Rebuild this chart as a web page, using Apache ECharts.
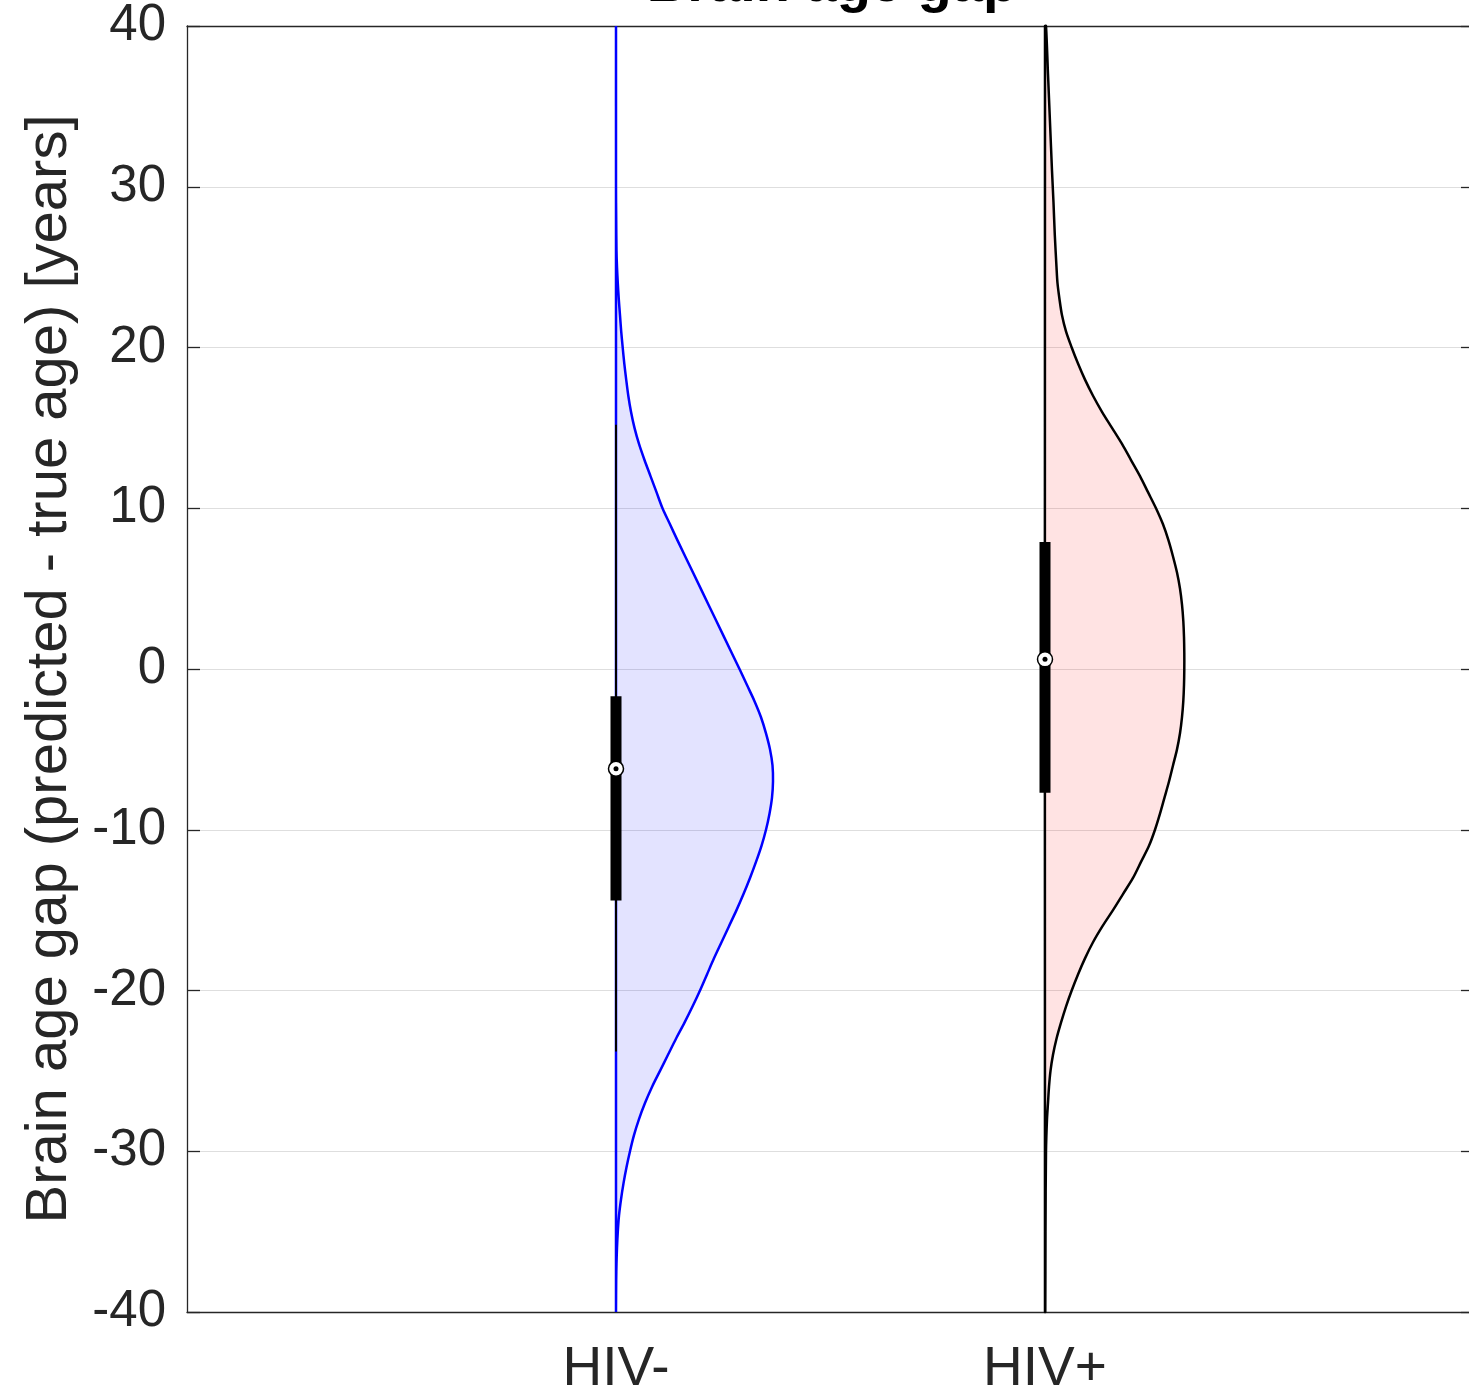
<!DOCTYPE html>
<html>
<head>
<meta charset="utf-8">
<title>Brain age gap</title>
<script src="https://cdn.jsdelivr.net/npm/echarts@6/dist/echarts.min.js"></script>
<style>
  html, body { margin: 0; padding: 0; background: #fff; }
  #chart { width: 1469px; height: 1392px; }
</style>
</head>
<body>
<div id="chart"></div>
<script>
// categories on the x axis (placed at x = 1, 2 of a 0..3 axis)
const categories = ['HIV-', 'HIV+'];
const yTicks = [-40, -30, -20, -10, 0, 10, 20, 30, 40];

// half-violin densities (scaled kernel density)
// widthScale turns a density value into x-axis units
const widthScale = 1 / 429;

const hivNegY = [-40, -38, -37, -36, -35, -34, -33, -32, -31, -30, -29, -28, -27, -26, -25, -24, -23, -22, -21, -20,
  -19, -18, -17, -16, -15, -14, -13, -12, -11, -10, -9, -8, -7, -6, -5, -4, -3, -2, -1, 0,
  2, 4, 6, 8, 9, 10, 11, 12, 13, 14, 15, 16, 17, 18, 19, 20, 21, 22, 23, 24, 25, 26, 28, 30, 40];
const hivNegD = [0, 0.2, 0.5, 1, 1.8, 3, 5, 7.5, 10.5, 14, 18, 23, 29, 36, 44, 52, 60, 68.5, 76.5, 84,
  91, 98, 105.5, 113, 120.5, 127.5, 134, 140, 145.5, 150, 153.5, 156, 157, 156.5, 154, 150, 145, 138.5, 131, 123.5,
  108, 92.5, 77, 61.5, 54, 46.5, 40.5, 34.5, 28.5, 23, 18.5, 15, 12.3, 10.2, 8.3, 6.7, 5.2, 4, 2.8, 1.8, 1, 0.5, 0.2, 0, 0];

const hivPosY = [-40, -35, -30, -28, -27, -26, -25, -24, -23, -22, -21, -20, -19, -18, -17, -16, -15, -14, -13, -12,
  -11, -10, -9, -8, -7, -6, -5, -4, -3, -2, -1, 0, 1, 2, 3, 4, 5, 6, 7, 8,
  9, 10, 11, 12, 13, 14, 15, 16, 17, 18, 19, 20, 21, 22, 23, 24, 25, 27, 29, 31, 34, 37, 40];
const hivPosD = [0.3, 0.5, 1, 2, 3, 4, 5.5, 8, 11.5, 16, 21, 26.7, 33, 40, 48, 57.5, 68, 78, 88, 96,
  104, 110, 115, 119.5, 124, 128, 132, 135, 137, 138.3, 139, 139.3, 139.3, 139, 138.3, 137, 135, 132, 128, 123.5,
  118, 111, 103, 95, 86, 77, 67, 57, 48, 40, 33, 26.7, 21, 17, 14.5, 12.5, 11.5, 9.8, 8.5, 7, 5, 3, 1];

// box statistics per category
const q1 = [-14.4, -7.7];
const q3 = [-1.7, 7.9];
const medians = [-6.2, 0.6];
const whiskerLow = [-23.8, -23.5];
const whiskerHigh = [15.2, 31];

const groups = [
  { y: hivNegY, d: hivNegD, stroke: '#0000ff', fill: 'rgba(0,0,255,0.11)' },
  { y: hivPosY, d: hivPosD, stroke: '#000000', fill: 'rgba(255,0,0,0.11)' }
];

const axisColor = '#262626';
const font = '"Liberation Sans", Arial, sans-serif';

function renderViolin(params, api) {
  const i = api.value(0);
  const g = groups[i];
  const c = i + 1;
  const pts = g.y.map((y, k) => api.coord([c + g.d[k] * widthScale, y]));
  pts.push(api.coord([c, g.y[g.y.length - 1]]));
  pts.push(api.coord([c, g.y[0]]));

  const top = api.coord([c, q3[i]]);
  const bot = api.coord([c, q1[i]]);
  const wLo = api.coord([c, whiskerLow[i]]);
  const wHi = api.coord([c, whiskerHigh[i]]);
  const med = api.coord([c, medians[i]]);
  const boxW = 11;

  return {
    type: 'group',
    children: [
      {
        type: 'polygon',
        shape: { points: pts, smooth: 0.3 },
        style: { fill: g.fill, stroke: g.stroke, lineWidth: 2.5 }
      },
      {
        type: 'line',
        shape: { x1: wLo[0], y1: wLo[1], x2: wHi[0], y2: wHi[1] },
        style: { stroke: '#000', lineWidth: 2 }
      },
      {
        type: 'rect',
        shape: { x: top[0] - boxW / 2, y: top[1], width: boxW, height: bot[1] - top[1] },
        style: { fill: '#000' }
      },
      {
        type: 'circle',
        shape: { cx: med[0], cy: med[1], r: 7.5 },
        style: { fill: '#fff', stroke: '#000', lineWidth: 1.5 }
      },
      {
        type: 'circle',
        shape: { cx: med[0], cy: med[1], r: 2.5 },
        style: { fill: '#000' }
      }
    ]
  };
}

const chart = echarts.init(document.getElementById('chart'), null, { renderer: 'canvas' });

const option = {
  animation: false,
  backgroundColor: '#fff',
  textStyle: { fontFamily: font },
  grid: { left: 187, top: 26, width: 1287, height: 1286, containLabel: false, outerBoundsMode: 'none' },
  graphic: [{
    type: 'text',
    x: 832,
    y: 14,
    style: {
      text: 'Brain age gap',
      font: 'bold 56px ' + font,
      fill: '#000',
      align: 'center',
      verticalAlign: 'bottom',
      textAlign: 'center',
      textVerticalAlign: 'bottom'
    }
  }],
  xAxis: [
    {
      type: 'value',
      min: 0,
      max: 3,
      interval: 1,
      position: 'bottom',
      axisLine: { show: true, onZero: false, lineStyle: { color: axisColor, width: 1.3 } },
      axisTick: { show: false },
      splitLine: { show: false },
      axisLabel: {
        fontSize: 55,
        color: axisColor,
        fontFamily: font,
        margin: 30,
        formatter: v => categories[v - 1] || ''
      }
    },
    {
      type: 'value',
      min: 0,
      max: 3,
      interval: 1,
      position: 'top',
      axisLine: { show: true, onZero: false, lineStyle: { color: axisColor, width: 1.3 } },
      axisTick: { show: false },
      splitLine: { show: false },
      axisLabel: { show: false }
    }
  ],
  yAxis: [
    {
      type: 'value',
      min: yTicks[0],
      max: yTicks[yTicks.length - 1],
      interval: 10,
      position: 'left',
      name: 'Brain age gap (predicted - true age) [years]',
      nameLocation: 'middle',
      nameGap: 108,
      nameTextStyle: { fontSize: 58, color: axisColor, fontFamily: font },
      axisLine: { show: true, onZero: false, lineStyle: { color: axisColor, width: 1.3 } },
      axisTick: { show: true, inside: true, length: 13, lineStyle: { color: axisColor, width: 1.3 } },
      splitLine: { show: true, lineStyle: { color: '#dedede', width: 1.2 } },
      axisLabel: { fontSize: 51, color: axisColor, fontFamily: font, margin: 21 }
    },
    {
      type: 'value',
      min: yTicks[0],
      max: yTicks[yTicks.length - 1],
      interval: 10,
      position: 'right',
      axisLine: { show: true, onZero: false, lineStyle: { color: axisColor, width: 1.3 } },
      axisTick: { show: true, inside: true, length: 13, lineStyle: { color: axisColor, width: 1.3 } },
      splitLine: { show: false },
      axisLabel: { show: false }
    }
  ],
  series: [{
    type: 'custom',
    xAxisIndex: 0,
    yAxisIndex: 0,
    renderItem: renderViolin,
    data: [[0], [1]],
    encode: { x: -1, y: -1 },
    clip: false
  }]
};

chart.setOption(option);
</script>
</body>
</html>
